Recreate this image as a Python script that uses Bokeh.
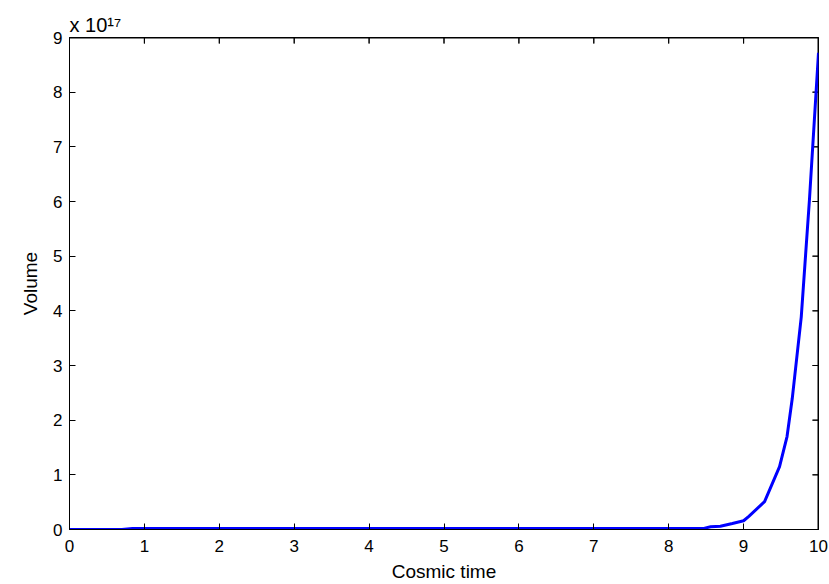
from bokeh.plotting import figure
from bokeh.models import FixedTicker, Range1d, Title
from bokeh.embed import file_html
from bokeh.resources import INLINE

# Cosmic time samples and volume (in units of 10^17)
cosmic_time = [0.0, 0.70, 0.84, 8.47, 8.56, 8.69, 8.85, 9.00, 9.07,
               9.28, 9.48, 9.58, 9.65, 9.77, 9.88, 10.0]
volume_e17 = [0.0, 0.0, 0.02, 0.02, 0.05, 0.06, 0.11, 0.16, 0.24,
              0.51, 1.15, 1.70, 2.40, 3.89, 6.05, 8.72]
x_ticks = [0, 1, 2, 3, 4, 5, 6, 7, 8, 9, 10]
y_ticks = [0, 1, 2, 3, 4, 5, 6, 7, 8, 9]
multiplier = "x 10¹⁷"
x_min, x_max = 0.0, 10.0
y_min, y_max = 0.0, 9.0

FONT = "Liberation Sans"

p = figure(width=829, height=584, output_backend="svg", toolbar_location=None,
           x_range=Range1d(x_min, x_max), y_range=Range1d(y_min, y_max),
           min_border_left=69, min_border_right=11, min_border_top=37,
           min_border_bottom=53)
p.background_fill_color = "white"
p.border_fill_color = "white"
p.outline_line_color = "black"
p.xgrid.visible = False
p.ygrid.visible = False

# box edges on the top and right (half of the stroke falls inside the frame)
p.line([x_min, x_max], [y_max, y_max], line_color="black", line_width=2)
p.line([x_max, x_max], [y_min, y_max], line_color="black", line_width=2)

# inward ticks on the top and right edges, built from the tick lists (as floats)
tick_dy = 0.11
tick_dx = 0.08
top_x, top_y = [], []
for t in x_ticks:
    top_x += [float(t), float(t), float(t)]
    top_y += [y_max, y_max - tick_dy, y_max]
right_x, right_y = [], []
for v in y_ticks:
    right_x += [x_max, x_max - tick_dx, x_max]
    right_y += [float(v), float(v), float(v)]
p.line(top_x, top_y, line_color="black", line_width=1)
p.line(right_x, right_y, line_color="black", line_width=1)

p.line(cosmic_time, volume_e17, line_color="#0000FF", line_width=3)

def style(ax, ticks):
    ax.ticker = FixedTicker(ticks=ticks)
    ax.major_tick_in = 6
    ax.major_tick_out = 0
    ax.minor_tick_line_color = None
    ax.axis_line_color = "black"
    ax.major_tick_line_color = "black"
    ax.major_label_text_font = FONT
    ax.major_label_text_color = "black"
    ax.major_label_text_font_size = "17px"

xa = p.xaxis[0]
style(xa, x_ticks)
xa.major_label_standoff = 10
xa.axis_label = "Cosmic time"
xa.axis_label_text_font = FONT
xa.axis_label_text_font_size = "19px"
xa.axis_label_text_font_style = "normal"
xa.axis_label_text_color = "black"
xa.axis_label_standoff = 6

ya = p.yaxis[0]
style(ya, y_ticks)
ya.major_label_standoff = 7
ya.axis_label = "Volume"
ya.axis_label_text_font = FONT
ya.axis_label_text_font_size = "19px"
ya.axis_label_text_font_style = "normal"
ya.axis_label_text_color = "black"
ya.axis_label_standoff = 9

# multiplier above the top-left corner of the frame
p.title = Title(text=multiplier, align="left", text_font=FONT,
                text_font_size="20px", text_font_style="normal",
                text_color="black", offset=0, standoff=3)

open("out.html", "w").write(file_html(p, INLINE))
